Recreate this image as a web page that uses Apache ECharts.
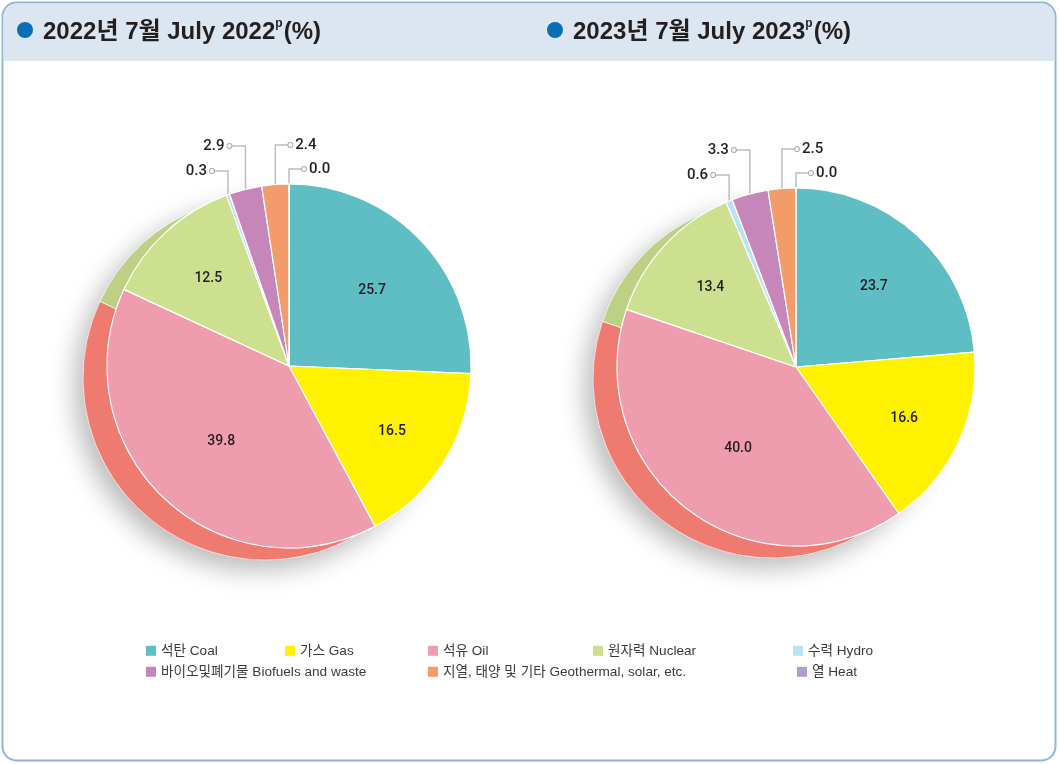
<!DOCTYPE html>
<html>
<head>
<meta charset="utf-8">
<script src="https://cdn.jsdelivr.net/npm/echarts@6/dist/echarts.min.js"></script>
<style>
  html, body { margin: 0; padding: 0; background: #fff; }
  #chart { width: 1059px; height: 764px; }
</style>
</head>
<body>
<div id="chart"></div>
<script>
  // 발전원별 비중 (%)
  const categories = ['석탄 Coal', '가스 Gas', '석유 Oil', '원자력 Nuclear', '수력 Hydro',
    '바이오및폐기물 Biofuels and waste', '지열, 태양 및 기타 Geothermal, solar, etc.', '열 Heat']
  const values2022 = [25.7, 16.5, 39.8, 12.5, 0.3, 2.9, 2.4, 0.0]
  const values2023 = [23.7, 16.6, 40.0, 13.4, 0.6, 3.3, 2.5, 0.0]
  const titles = ['2022년 7월 July 2022', '2023년 7월 July 2023']

  const colors = ['#5EBEC3', '#FFF100', '#F09CAF', '#CDE08F', '#BBE1F6', '#C686BA', '#F39B69', '#B09ECA']
  const sideColors = ['#4AA6AC', '#E3D600', '#EF7B70', '#BDD086', '#9FCBE3', '#AE6FA2', '#DD8556', '#967FB3']
  const fontFamily = "'Liberation Sans', 'Noto Sans CJK KR', sans-serif"
  const numFont = "Roboto, 'Liberation Sans', sans-serif"
  const textColor = '#231F20'

  // 작은 조각 라벨 높이 (파이 상단 기준)
  const outerRise = {4: 13, 5: 38, 6: 39, 7: 15}

  const pies = [
    {values: values2022, center: [289, 366], r: 182},
    {values: values2023, center: [796, 367], r: 179}
  ]
  const sideShift = [-24, 12]

  const legendLeft = [146, 285, 428, 593, 793, 146, 428, 797]
  const legendTop = [644, 644, 644, 644, 644, 665, 665, 665]

  function makeLayout(p) {
    return function (params) {
      const i = params.dataIndex
      const cx = p.center[0]
      const cy = p.center[1]
      const v = p.values[i]
      if (v >= 5) {
        // 큰 조각일수록 안쪽에 라벨
        const k = (0.7 - 0.004 * v) / 0.5
        const rc = params.labelRect
        const lx = rc.x + rc.width / 2
        const ly = rc.y + rc.height / 2
        return {
          x: cx + (lx - cx) * k + 2,
          y: cy + (ly - cy) * k + 2,
          align: 'center',
          verticalAlign: 'middle'
        }
      }
      const pts = params.labelLinePoints
      if (!pts) return {}
      const sx = pts[0][0]
      const sy = pts[0][1]
      const ty = cy - p.r - outerRise[i]
      const left = i <= 5
      const ex = left ? sx - 17 : sx + 16
      return {
        x: left ? ex + 3 : ex - 3,
        y: ty,
        align: left ? 'right' : 'left',
        verticalAlign: 'middle',
        labelLinePoints: [[sx, sy], [sx, ty], [ex, ty]]
      }
    }
  }

  const series = []
  pies.forEach((p, k) => {
    const sideCenter = [p.center[0] + sideShift[0], p.center[1] + sideShift[1]]
    // 그림자
    series.push({
      type: 'pie',
      name: 'shadow' + k,
      z: 1,
      silent: true,
      animation: false,
      center: sideCenter,
      radius: p.r,
      label: {show: false},
      labelLine: {show: false},
      itemStyle: {
        color: '#fff',
        shadowBlur: 26,
        shadowColor: 'rgba(0,0,0,0.28)',
        shadowOffsetX: -8,
        shadowOffsetY: 10
      },
      data: [{name: '', value: 1}]
    })
    // 입체 옆면
    series.push({
      type: 'pie',
      name: 'side' + k,
      z: 2,
      silent: true,
      animation: false,
      legendHoverLink: false,
      center: sideCenter,
      radius: p.r,
      startAngle: 90,
      label: {show: false},
      labelLine: {show: false},
      itemStyle: {borderColor: '#fff', borderWidth: 0.6},
      data: p.values.map((v, i) => ({name: categories[i], value: v, itemStyle: {color: sideColors[i]}}))
    })
    // 앞면
    series.push({
      type: 'pie',
      name: titles[k],
      z: 3,
      animation: false,
      center: p.center,
      radius: p.r,
      startAngle: 90,
      avoidLabelOverlap: false,
      emphasis: {disabled: true},
      itemStyle: {borderColor: '#fff', borderWidth: 1.2},
      label: {
        fontFamily: numFont,
        fontSize: 14,
        fontWeight: 500,
        color: textColor,
        formatter: d => {
          const v = d.value.toFixed(1)
          if (d.value >= 5) return v
          return d.dataIndex <= 5 ? '{v|' + v + '}{c|}' : '{c|}{v|' + v + '}'
        },
        rich: {
          v: {fontFamily: numFont, fontSize: 15, fontWeight: 500, color: textColor, padding: [0, 3]},
          c: {width: 4, height: 4, borderRadius: 3, borderColor: '#AAAAAA', borderWidth: 1, backgroundColor: '#fff'}
        }
      },
      labelLine: {lineStyle: {color: '#BDBDBD', width: 1.5}},
      labelLayout: makeLayout(p),
      data: p.values.map((v, i) => ({
        name: categories[i],
        value: v,
        itemStyle: {color: colors[i]},
        label: {position: v >= 5 ? 'inside' : 'outside'},
        labelLine: {show: v < 5, length: 10, length2: 10}
      }))
    })
  })

  const chart = echarts.init(document.getElementById('chart'))
  chart.setOption({
    backgroundColor: '#fff',
    animation: false,
    graphic: {
      elements: [
        {
          type: 'rect',
          shape: {x: 2.5, y: 2.5, width: 1053, height: 758, r: 14},
          style: {fill: '#fff', stroke: '#8FB4DE', lineWidth: 2}
        },
        {
          type: 'rect',
          shape: {x: 3.5, y: 3.5, width: 1051, height: 57.5, r: [13, 13, 0, 0]},
          style: {fill: '#DCE6F1'}
        },
        {type: 'circle', shape: {cx: 25, cy: 30, r: 8}, style: {fill: '#0A6EB5'}},
        {type: 'circle', shape: {cx: 555, cy: 30, r: 8}, style: {fill: '#0A6EB5'}}
      ]
    },
    title: titles.map((t, i) => ({
      text: '{t|' + t + '}{s|p}{t|(%)}',
      left: [43, 573][i],
      top: 18,
      padding: 0,
      textStyle: {
        rich: {
          t: {fontFamily: fontFamily, fontSize: 24, fontWeight: 'bold', color: textColor, lineHeight: 28},
          s: {fontFamily: fontFamily, fontSize: 12, fontWeight: 'bold', color: textColor, verticalAlign: 'top', lineHeight: 28, padding: [0, 1, 10, 0]}
        }
      }
    })),
    legend: categories.map((c, i) => ({
      data: [{name: c, itemStyle: {color: colors[i], borderWidth: 0}}],
      left: legendLeft[i],
      top: legendTop[i],
      padding: 0,
      icon: 'rect',
      itemWidth: 10,
      itemHeight: 10,
      itemStyle: {borderWidth: 0},
      selectedMode: false,
      textStyle: {fontFamily: fontFamily, fontSize: 13.6, color: '#3A3A3A'}
    })),
    series: series
  })
</script>
</body>
</html>
